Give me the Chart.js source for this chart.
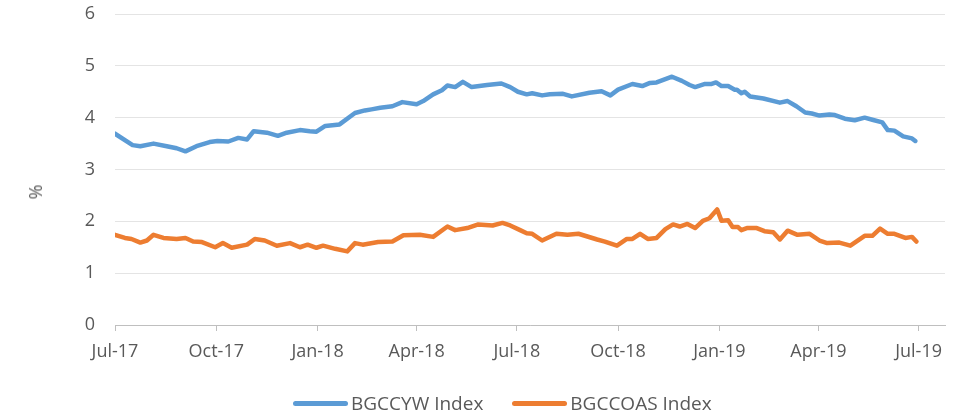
<!DOCTYPE html>
<html>
<head>
<meta charset="utf-8">
<script src="https://cdn.jsdelivr.net/npm/chart.js@4/dist/chart.umd.min.js"></script>
<style>
  html, body { margin: 0; padding: 0; background: #fff; }
  #wrap { position: relative; width: 961px; height: 416px; }
  canvas { position: absolute; left: 0; top: 0; }
  #ytitle { position: absolute; left: 35px; top: 192px; transform: translate(-50%, -50%) rotate(-90deg);
    font: 18px "Open Sans", sans-serif; color: #595959; white-space: nowrap; }
  #legend { position: absolute; left: 293px; top: 392px; height: 22px; display: flex; align-items: center;
    font: 19px "Open Sans", sans-serif; color: #595959; white-space: nowrap; }
  .item { display: flex; align-items: center; }
  .swatch { width: 55px; height: 5px; border-radius: 3px; margin-right: 3px; }
</style>
</head>
<body>
<div id="wrap">
  <canvas id="c" width="961" height="416"></canvas>
  <div id="ytitle"></div>
  <div id="legend"></div>
</div>
<script>
// ---- data ----
const seriesNames = ["BGCCYW Index", "BGCCOAS Index"];
const seriesColors = ["#5B9BD5", "#ED7D31"];
const axisStart = "2017-07-01";
const axisEnd = "2019-07-25";
const tickDates = ["2017-07-01","2017-10-01","2018-01-01","2018-04-01","2018-07-01","2018-10-01","2019-01-01","2019-04-01","2019-07-01"];
const tickLabels = ["Jul-17","Oct-17","Jan-18","Apr-18","Jul-18","Oct-18","Jan-19","Apr-19","Jul-19"];
const yTitle = "%";

const ywDates = ["2017-07-01","2017-07-17","2017-07-24","2017-08-05","2017-08-17","2017-08-26","2017-09-03","2017-09-13","2017-09-25","2017-10-02","2017-10-12","2017-10-21","2017-10-29","2017-11-04","2017-11-16","2017-11-26","2017-12-04","2017-12-16","2017-12-25","2017-12-31","2018-01-08","2018-01-21","2018-02-04","2018-02-13","2018-02-19","2018-02-27","2018-03-10","2018-03-19","2018-04-01","2018-04-07","2018-04-16","2018-04-24","2018-04-29","2018-05-06","2018-05-13","2018-05-21","2018-06-04","2018-06-17","2018-06-25","2018-07-02","2018-07-10","2018-07-15","2018-07-24","2018-07-31","2018-08-12","2018-08-20","2018-09-05","2018-09-16","2018-09-24","2018-10-01","2018-10-14","2018-10-23","2018-10-30","2018-11-05","2018-11-19","2018-11-28","2018-12-05","2018-12-10","2018-12-19","2018-12-25","2018-12-29","2019-01-03","2019-01-09","2019-01-15","2019-01-17","2019-01-21","2019-01-24","2019-01-29","2019-02-10","2019-02-25","2019-03-04","2019-03-12","2019-03-20","2019-03-26","2019-04-02","2019-04-11","2019-04-16","2019-04-25","2019-05-04","2019-05-13","2019-05-20","2019-05-29","2019-06-03","2019-06-09","2019-06-17","2019-06-25","2019-06-28"];
const ywValues = [3.69,3.47,3.45,3.50,3.45,3.41,3.35,3.45,3.53,3.55,3.54,3.61,3.58,3.74,3.71,3.65,3.71,3.76,3.74,3.73,3.84,3.87,4.09,4.14,4.16,4.19,4.22,4.30,4.26,4.32,4.45,4.53,4.62,4.59,4.69,4.59,4.63,4.66,4.59,4.50,4.45,4.47,4.43,4.45,4.46,4.41,4.48,4.51,4.43,4.54,4.65,4.61,4.67,4.68,4.79,4.71,4.63,4.59,4.65,4.65,4.68,4.61,4.61,4.54,4.54,4.47,4.50,4.41,4.37,4.29,4.32,4.22,4.10,4.08,4.04,4.06,4.05,3.98,3.95,4.00,3.96,3.91,3.76,3.75,3.64,3.60,3.55];

const oasDates = ["2017-07-01","2017-07-10","2017-07-16","2017-07-24","2017-07-30","2017-08-05","2017-08-14","2017-08-26","2017-09-03","2017-09-10","2017-09-18","2017-09-30","2017-10-07","2017-10-15","2017-10-29","2017-11-05","2017-11-14","2017-11-25","2017-12-07","2017-12-16","2017-12-23","2017-12-31","2018-01-06","2018-01-17","2018-01-28","2018-02-04","2018-02-11","2018-02-25","2018-03-10","2018-03-20","2018-04-04","2018-04-16","2018-04-29","2018-05-06","2018-05-17","2018-05-27","2018-06-09","2018-06-18","2018-06-25","2018-07-04","2018-07-10","2018-07-15","2018-07-24","2018-08-06","2018-08-16","2018-08-26","2018-09-12","2018-09-19","2018-09-30","2018-10-09","2018-10-14","2018-10-21","2018-10-28","2018-11-05","2018-11-13","2018-11-20","2018-11-26","2018-12-03","2018-12-10","2018-12-17","2018-12-23","2018-12-30","2019-01-03","2019-01-09","2019-01-13","2019-01-18","2019-01-21","2019-01-26","2019-02-04","2019-02-11","2019-02-19","2019-02-25","2019-03-04","2019-03-13","2019-03-24","2019-04-02","2019-04-09","2019-04-20","2019-04-30","2019-05-13","2019-05-20","2019-05-27","2019-06-03","2019-06-09","2019-06-19","2019-06-25","2019-06-29"];
const oasValues = [1.74,1.68,1.66,1.59,1.63,1.74,1.68,1.66,1.68,1.61,1.60,1.50,1.58,1.49,1.55,1.66,1.63,1.53,1.58,1.50,1.55,1.49,1.53,1.47,1.42,1.58,1.55,1.60,1.61,1.73,1.74,1.70,1.90,1.83,1.87,1.94,1.92,1.97,1.92,1.83,1.77,1.76,1.63,1.76,1.74,1.76,1.65,1.61,1.53,1.66,1.66,1.76,1.66,1.68,1.85,1.94,1.90,1.95,1.87,2.01,2.06,2.23,2.01,2.02,1.89,1.89,1.83,1.87,1.87,1.81,1.79,1.65,1.82,1.74,1.76,1.63,1.58,1.59,1.53,1.72,1.72,1.86,1.76,1.76,1.68,1.70,1.61];

// ---- helpers ----
const dayOf = s => { const [y,m,d] = s.split("-").map(Number); const [y0,m0,d0] = axisStart.split("-").map(Number);
  return (Date.UTC(y,m-1,d) - Date.UTC(y0,m0-1,d0)) / 86400000; };
const toPts = (ds, vs) => ds.map((d, i) => ({ x: dayOf(d), y: vs[i] }));

const FONT = { family: "'Open Sans', sans-serif", size: 18 };
const TXT = "#595959";

document.getElementById("ytitle").textContent = yTitle;
const leg = document.getElementById("legend");
seriesNames.forEach((n, i) => {
  const it = document.createElement("div"); it.className = "item";
  if (i > 0) it.style.marginLeft = "29px";
  const sw = document.createElement("div"); sw.className = "swatch"; sw.style.background = seriesColors[i];
  const tx = document.createElement("span"); tx.textContent = n;
  it.appendChild(sw); it.appendChild(tx); leg.appendChild(it);
});

new Chart(document.getElementById("c"), {
  type: "line",
  data: {
    datasets: [
      { label: seriesNames[0], data: toPts(ywDates, ywValues), borderColor: seriesColors[0], backgroundColor: seriesColors[0],
        borderWidth: 4.5, pointRadius: 0, tension: 0, borderJoinStyle: "round", borderCapStyle: "round" },
      { label: seriesNames[1], data: toPts(oasDates, oasValues), borderColor: seriesColors[1], backgroundColor: seriesColors[1],
        borderWidth: 4.5, pointRadius: 0, tension: 0, borderJoinStyle: "round", borderCapStyle: "round" }
    ]
  },
  options: {
    responsive: false, animation: false, devicePixelRatio: 1,
    layout: { padding: { left: 0, right: 16, top: 14, bottom: 0 } },
    plugins: { legend: { display: false }, tooltip: { enabled: false } },
    scales: {
      x: {
        type: "linear", min: 0, max: dayOf(axisEnd),
        afterBuildTicks: s => { s.ticks = tickDates.map(d => ({ value: dayOf(d) })); },
        afterFit: s => { s.height = 91; s.paddingLeft = 0; s.paddingRight = 0; },
        ticks: { autoSkip: false, maxRotation: 0, minRotation: 0, padding: 10, color: TXT, font: FONT,
          callback: (v, i) => tickLabels[i] },
        grid: { drawOnChartArea: false, drawTicks: true, tickLength: 6, color: "#BFBFBF" },
        border: { color: "#BFBFBF", width: 1 }
      },
      y: {
        min: 0, max: 6,
        afterFit: s => { s.width = 115; s.paddingTop = 0; s.paddingBottom = 0; },
        ticks: { stepSize: 1, padding: 20, color: TXT, font: FONT },
        grid: { color: "#E4E4E4", drawTicks: false },
        border: { display: false }
      }
    }
  }
});
</script>
</body>
</html>
